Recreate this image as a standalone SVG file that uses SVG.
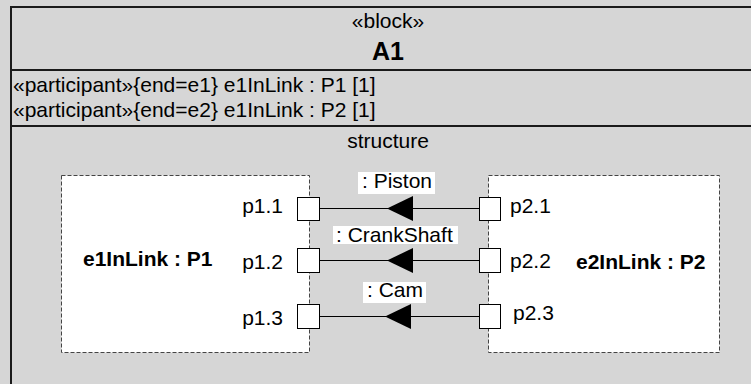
<svg xmlns="http://www.w3.org/2000/svg" width="751" height="384" viewBox="0 0 751 384">
<defs>
<style>
text{font-family:"Liberation Sans",Arial,sans-serif;font-size:21px;fill:#000}
.b{font-weight:bold}
.c{text-anchor:middle}
.e{text-anchor:end}
.frame{fill:none;stroke:#1a1a1a;stroke-width:2}
.part{fill:#fff;stroke:#444;stroke-width:1;stroke-dasharray:4 2}
.port{fill:#fff;stroke:#000;stroke-width:1}
.conn{stroke:#000;stroke-width:1;fill:none}
.head{fill:#000}
.lbl{fill:#fff}
</style>
</defs>
<rect x="0" y="0" width="751" height="384" fill="#d6d6d6"/>
<g id="A1">
<rect class="frame" x="11" y="7" width="760" height="400"/>
<line class="frame" x1="11" y1="70" x2="751" y2="70"/>
<line class="frame" x1="11" y1="126" x2="751" y2="126"/>
<text class="c" x="388" y="28">«block»</text>
<text class="c b" x="388" y="60" style="font-size:25px">A1</text>
<text x="13" y="92">«participant»{end=e1} e1InLink : P1 [1]</text>
<text x="13" y="117">«participant»{end=e2} e1InLink : P2 [1]</text>
<text class="c" x="388" y="148">structure</text>
</g>
<g id="e1InLink">
<rect class="part" x="61.5" y="175.5" width="248" height="177"/>
<text class="b" x="83" y="266">e1InLink : P1</text>
<text class="e" x="283" y="213">p1.1</text>
<text class="e" x="283" y="269">p1.2</text>
<text class="e" x="283" y="325">p1.3</text>
</g>
<g id="e2InLink">
<rect class="part" x="488.5" y="175.5" width="231" height="177"/>
<text class="b" x="576" y="269">e2InLink : P2</text>
<text x="510" y="213">p2.1</text>
<text x="510" y="268">p2.2</text>
<text x="513" y="320">p2.3</text>
</g>
<g id="ports">
<rect id="p1.1" class="port" x="297.5" y="197.5" width="22" height="23"/>
<rect id="p1.2" class="port" x="297.5" y="248.5" width="22" height="24"/>
<rect id="p1.3" class="port" x="297.5" y="304.5" width="22" height="24"/>
<rect id="p2.1" class="port" x="479.5" y="197.5" width="21" height="23"/>
<rect id="p2.2" class="port" x="479.5" y="248.5" width="21" height="24"/>
<rect id="p2.3" class="port" x="479.5" y="304.5" width="21" height="24"/>
</g>
<g id="connectors">
<line class="conn" x1="320" y1="208.5" x2="479" y2="208.5"/>
<polygon class="head" points="387,208.5 413,196 413,221"/>
<rect class="lbl" x="358" y="172" width="77" height="22"/>
<text x="362" y="188">: Piston</text>
<line class="conn" x1="320" y1="260.5" x2="479" y2="260.5"/>
<polygon class="head" points="387,260.5 413,248 413,273"/>
<rect class="lbl" x="333" y="226" width="125" height="18"/>
<text x="336" y="242">: CrankShaft</text>
<line class="conn" x1="320" y1="316.5" x2="479" y2="316.5"/>
<polygon class="head" points="385,316.5 411,304 411,329"/>
<rect class="lbl" x="363" y="282" width="63" height="21"/>
<text x="367" y="297">: Cam</text>
</g>
</svg>
